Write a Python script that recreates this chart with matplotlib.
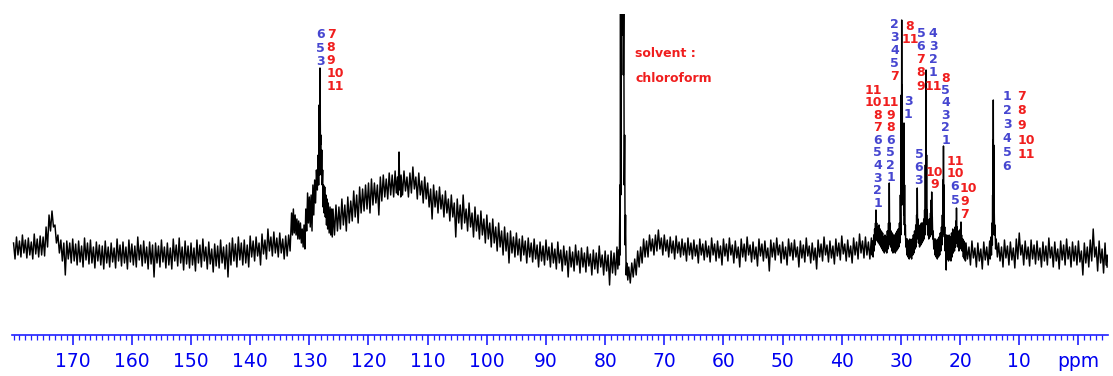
import numpy as np
import matplotlib.pyplot as plt

# 13C NMR trace, intensity in arbitrary units (0 = axis line).
# The noise is read as its lower and upper edge on a 0.5 ppm grid,
# peak regions as (ppm, lower, upper) points.
low_180_134 = [76, 80, 78, 82, 77, 80, 76, 81, 78, 80,
               79, 88, 104, 108, 92, 82, 74, 60, 76, 72,
               74, 70, 73, 68, 75, 71, 72, 67, 74, 70,
               66, 72, 68, 73, 67, 74, 69, 72, 66, 73,
               70, 68, 75, 69, 72, 66, 71, 58, 72, 68,
               73, 67, 70, 66, 74, 69, 72, 65, 71, 67,
               70, 64, 72, 68, 74, 66, 71, 63, 69, 67,
               72, 66, 58, 70, 74, 68, 75, 70, 72, 68,
               78, 74, 79, 70, 81, 76, 84, 79, 82, 78,
               82, 76, 79]
high_180_134 = [92, 98, 94, 100, 95, 97, 93, 101, 96, 99,
                98, 108, 120, 124, 110, 100, 95, 92, 94, 92,
                96, 91, 94, 89, 97, 92, 95, 88, 93, 90,
                89, 94, 88, 92, 87, 96, 90, 93, 88, 95,
                91, 89, 98, 90, 94, 88, 93, 90, 92, 89,
                95, 88, 92, 87, 96, 90, 97, 88, 94, 89,
                92, 87, 95, 90, 96, 88, 93, 86, 91, 89,
                95, 88, 90, 92, 97, 91, 98, 92, 95, 90,
                99, 94, 98, 92, 101, 95, 106, 98, 103, 97,
                102, 96, 99]

aromatic_peak = [(133.5, 84, 100), (133.0, 100, 122), (132.7, 102, 126), (132.4, 100, 120),
                 (132.1, 96, 116), (131.8, 96, 114), (131.5, 92, 112), (131.2, 88, 106),
                 (130.9, 86, 110), (130.6, 104, 126), (130.3, 112, 142), (130.0, 108, 138),
                 (129.7, 104, 140), (129.4, 120, 150), (129.1, 132, 155), (128.8, 145, 165),
                 (128.5, 150, 180), (128.35, 160, 230), (128.2, 190, 267), (128.05, 160, 200),
                 (127.9, 150, 185), (127.75, 128, 165), (127.6, 122, 150), (127.4, 118, 148),
                 (127.2, 110, 140), (127.0, 106, 136), (126.8, 102, 132), (126.5, 100, 128),
                 (126.25, 98, 126)]

low_126_115 = [100, 104, 106, 110, 104, 112, 114, 118, 112, 122,
               124, 126, 122, 130, 132, 120, 134, 138, 136, 140,
               138, 142]
high_126_115 = [126, 130, 128, 136, 130, 138, 134, 144, 140, 148,
                146, 150, 152, 156, 152, 150, 158, 160, 156, 162,
                160, 164]

hump_spike = [(115.1, 140, 158), (114.84, 145, 183), (114.6, 138, 158)]

low_114_78 = [140, 144, 138, 142, 146, 136, 140, 132, 136, 128,
              116, 128, 122, 126, 118, 122, 114, 118, 98, 112,
              106, 112, 104, 108, 98, 104, 96, 100, 92, 96,
              88, 92, 84, 88, 80, 84, 72, 82, 78, 80,
              74, 80, 72, 78, 73, 76, 68, 74, 70, 75,
              68, 72, 66, 72, 64, 70, 58, 68, 64, 70,
              62, 68, 63, 69, 60, 66, 62, 68, 60, 64,
              50, 62, 60, 66]
high_114_78 = [160, 164, 158, 162, 168, 158, 162, 154, 158, 152,
               146, 150, 144, 148, 140, 144, 136, 140, 132, 136,
               130, 140, 126, 132, 122, 128, 120, 124, 116, 120,
               112, 116, 108, 112, 104, 108, 102, 104, 98, 102,
               96, 99, 94, 97, 92, 96, 90, 93, 89, 95,
               88, 92, 86, 93, 85, 89, 84, 88, 83, 90,
               84, 87, 82, 88, 81, 85, 82, 89, 80, 84,
               80, 84, 82, 88]

solvent_peak = [(77.7, 70, 85), (77.5, 80, 150), (77.4, 140, 330), (77.32, 300, 450),
                (77.2, 300, 400), (77.0, 260, 480), (76.85, 150, 330), (76.7, 90, 200),
                (76.55, 60, 120), (76.35, 55, 72)]

low_76_35 = [52, 58, 60, 68, 72, 78, 78, 84, 80, 84,
             86, 80, 84, 78, 82, 76, 82, 78, 80, 74,
             80, 76, 79, 72, 80, 75, 78, 73, 80, 74,
             77, 70, 79, 74, 80, 72, 77, 68, 78, 74,
             80, 73, 76, 69, 79, 74, 77, 64, 78, 75,
             80, 72, 76, 70, 79, 75, 78, 68, 77, 73,
             79, 72, 75, 66, 78, 74, 80, 73, 77, 71,
             79, 75, 81, 74, 78, 72, 80, 76, 82, 77,
             80, 76, 80]
high_76_35 = [68, 72, 76, 84, 88, 96, 94, 100, 96, 100,
              105, 97, 100, 95, 98, 94, 99, 93, 96, 92,
              97, 92, 95, 90, 96, 91, 94, 89, 97, 91,
              94, 89, 96, 91, 97, 90, 94, 88, 96, 91,
              98, 90, 93, 88, 96, 91, 94, 87, 95, 92,
              97, 90, 93, 88, 96, 92, 95, 88, 94, 90,
              97, 89, 92, 87, 95, 91, 98, 90, 94, 89,
              96, 92, 99, 91, 95, 89, 97, 93, 101, 94,
              98, 93, 97]

aliphatic_peaks = [(34.8, 78, 94), (34.6, 84, 100), (34.45, 90, 106), (34.3, 96, 112),
                   (34.22, 100, 125), (34.1, 94, 112), (33.9, 92, 108), (33.7, 90, 110),
                   (33.5, 88, 106), (33.3, 86, 104), (33.1, 84, 102), (32.9, 82, 98),
                   (32.7, 84, 100), (32.5, 82, 98), (32.3, 86, 104), (32.1, 90, 112),
                   (31.97, 96, 152), (31.85, 88, 112), (31.65, 84, 104), (31.45, 82, 102),
                   (31.25, 84, 100), (31.05, 82, 100), (30.85, 84, 102), (30.65, 86, 104),
                   (30.45, 88, 106), (30.25, 92, 112), (30.1, 100, 140), (29.95, 130, 240),
                   (29.87, 150, 315), (29.78, 140, 250), (29.68, 130, 170), (29.58, 120, 190),
                   (29.48, 110, 212), (29.38, 100, 150), (29.25, 88, 110), (29.1, 80, 96),
                   (28.9, 78, 96), (28.7, 76, 94), (28.5, 78, 96), (28.3, 76, 92),
                   (28.1, 80, 96), (27.9, 82, 100), (27.7, 86, 104), (27.5, 88, 110),
                   (27.35, 96, 120), (27.24, 100, 147), (27.12, 92, 116), (26.95, 88, 108),
                   (26.75, 90, 110), (26.55, 92, 112), (26.35, 94, 112), (26.15, 96, 116),
                   (26.0, 100, 125), (25.88, 110, 170), (25.76, 120, 265), (25.66, 112, 180),
                   (25.55, 100, 125), (25.4, 96, 112), (25.2, 98, 116), (25.0, 100, 122),
                   (24.88, 104, 135), (24.8, 104, 143), (24.7, 96, 118), (24.55, 86, 104),
                   (24.35, 80, 96), (24.15, 78, 96), (23.95, 76, 94), (23.75, 78, 96),
                   (23.55, 80, 98), (23.35, 84, 102), (23.15, 90, 108), (23.0, 98, 120),
                   (22.9, 110, 155), (22.81, 116, 189), (22.72, 100, 150), (22.6, 84, 108),
                   (22.45, 65, 100), (22.25, 76, 100), (22.05, 74, 96), (21.85, 76, 100),
                   (21.65, 74, 98), (21.45, 78, 102), (21.25, 82, 106), (21.05, 84, 104),
                   (20.85, 88, 108), (20.7, 92, 114), (20.61, 96, 127), (20.5, 88, 108),
                   (20.3, 84, 104), (20.1, 86, 104), (19.95, 88, 106), (19.85, 92, 113),
                   (19.75, 84, 100), (19.55, 78, 96), (19.35, 76, 94), (19.2, 74, 92)]

low_19_15 = [76, 70, 77, 68, 74, 66, 75, 70, 76]
high_19_15 = [92, 88, 94, 87, 92, 86, 93, 88, 94]

methyl_peak = [(14.8, 80, 98), (14.6, 90, 112), (14.5, 100, 140), (14.45, 120, 195),
               (14.39, 135, 235), (14.32, 120, 190), (14.25, 100, 135), (14.1, 86, 110),
               (13.9, 78, 96)]

low_13_m5 = [74, 68, 77, 70, 75, 67, 76, 80, 70, 76,
             69, 76, 71, 75, 68, 74, 70, 77, 68, 74,
             66, 75, 70, 76, 68, 74, 70, 73, 60, 72,
             68, 74, 78, 64, 72, 62, 70]
high_13_m5 = [92, 88, 95, 89, 93, 87, 96, 102, 90, 94,
              88, 95, 90, 94, 87, 93, 89, 97, 88, 93,
              86, 94, 90, 96, 88, 93, 89, 94, 84, 92,
              88, 95, 106, 88, 94, 86, 92]

trace_end = [(-4.85, 68, 80)]

tick_ppm = [170, 160, 150, 140, 130, 120, 110, 100, 90, 80, 70, 60, 50, 40, 30, 20, 10, 0]
tick_text = ['170', '160', '150', '140', '130', '120', '110', '100', '90', '80',
             '70', '60', '50', '40', '30', '20', '10', 'ppm']

BLUE = '#4646d0'
RED = '#f01e1e'
B, R = BLUE, RED
# carbon assignment stacks: (ppm, top intensity, row step, align, texts, colours)
label_stacks = [
    (128.11, 300, 13.3, 'center', ['6', '5', '3'], [B, B, B]),
    (127.07, 300, 12.9, 'left', ['7', '8', '9', '10', '11'], [R] * 5),
    (33.20, 245, 12.6, 'right', ['11', '10', '8', '7', '6', '5', '4', '3', '2', '1'],
     [R, R, R, R, B, B, B, B, B, B]),
    (31.76, 232.3, 12.5, 'center', ['11', '9', '8', '6', '5', '2', '1'], [R, R, R, B, B, B, B]),
    (31.09, 310, 12.75, 'center', ['2', '3', '4', '5', '7'], [B, B, B, B, R]),
    (28.5, 309, 13.3, 'center', ['8', '11'], [R, R]),
    (28.76, 233.3, 13.3, 'center', ['3', '1'], [B, B]),
    (26.61, 301.7, 13.2, 'center', ['5', '6', '7', '8', '9'], [B, B, R, R, R]),
    (24.55, 301.7, 13.2, 'center', ['4', '3', '2', '1', '11'], [B, B, B, B, R]),
    (22.47, 257, 12.4, 'center', ['8', '5', '4', '3', '2', '1'], [R, B, B, B, B, B]),
    (26.95, 180, 12.5, 'center', ['5', '6', '3'], [B, B, B]),
    (24.3, 162.7, 11.7, 'center', ['10', '9'], [R, R]),
    (20.8, 173.3, 11.6, 'center', ['11', '10'], [R, R]),
    (20.14, 148, 13, 'right', ['6', '5'], [B, B]),
    (20.02, 147, 13.5, 'left', ['10', '9', '7'], [R, R, R]),
    (12.07, 238.3, 14, 'center', ['1', '2', '3', '4', '5', '6'], [B] * 6),
    (10.33, 239, 14.75, 'left', ['7', '8', '9', '10', '11'], [R] * 5),
]


def band(start, low, high):
    assert len(low) == len(high)
    return start - 0.5 * np.arange(len(low)), np.array(low, float), np.array(high, float)


def points(rows):
    p, lo, hi = zip(*rows)
    return np.array(p, float), np.array(lo, float), np.array(hi, float)


pieces = [band(180.0, low_180_134, high_180_134), points(aromatic_peak),
          band(126.0, low_126_115, high_126_115), points(hump_spike),
          band(114.5, low_114_78, high_114_78), points(solvent_peak),
          band(76.0, low_76_35, high_76_35), points(aliphatic_peaks),
          band(19.0, low_19_15, high_19_15), points(methyl_peak),
          band(13.5, low_13_m5, high_13_m5), points(trace_end)]
ppm = np.concatenate([p[0] for p in pieces])
lower = np.concatenate([p[1] for p in pieces])
upper = np.concatenate([p[2] for p in pieces])

# the trace swings from each upper reading down to its lower reading,
# the lower one placed halfway to the next sample
half = np.append((ppm[:-1] + ppm[1:]) / 2, ppm[-1])
trace_x = np.column_stack([ppm, half]).ravel()
trace_y = np.column_stack([upper, lower]).ravel()

fig = plt.figure(figsize=(11.13, 3.76), dpi=100)
ax = fig.add_axes([12 / 1113, 41 / 376, 1096 / 1113, 321 / 376])
ax.plot(trace_x, trace_y, color='black', lw=1.05)
ax.set_xlim(180.26, -5.0)
ax.set_ylim(0, 321)

for side in ('left', 'right', 'top'):
    ax.spines[side].set_visible(False)
ax.spines['bottom'].set_color('#1f1fff')
ax.spines['bottom'].set_linewidth(1.2)
ax.set_yticks([])
ax.set_xticks(tick_ppm)
ax.set_xticklabels(tick_text)
ax.set_xticks(np.arange(-4, 181, 1), minor=True)
ax.tick_params(axis='x', which='major', length=7.2, width=1.2, color='#1f1fff',
               labelcolor='#0000f0', labelsize=13.5, pad=5)
ax.tick_params(axis='x', which='minor', length=3.6, width=0.9, color='#1f1fff')

for x0, y0, step, ha, texts, colours in label_stacks:
    for k, (t, c) in enumerate(zip(texts, colours)):
        ax.text(x0, y0 - k * step, t, color=c, ha=ha, va='center',
                fontsize=9, fontweight='bold', family='DejaVu Sans')

ax.text(74.95, 281.7, 'solvent :', color=RED, ha='left', va='center',
        fontsize=9, fontweight='bold')
ax.text(74.95, 256.7, 'chloroform', color=RED, ha='left', va='center',
        fontsize=9, fontweight='bold')

fig.savefig('out.png', dpi=100)
